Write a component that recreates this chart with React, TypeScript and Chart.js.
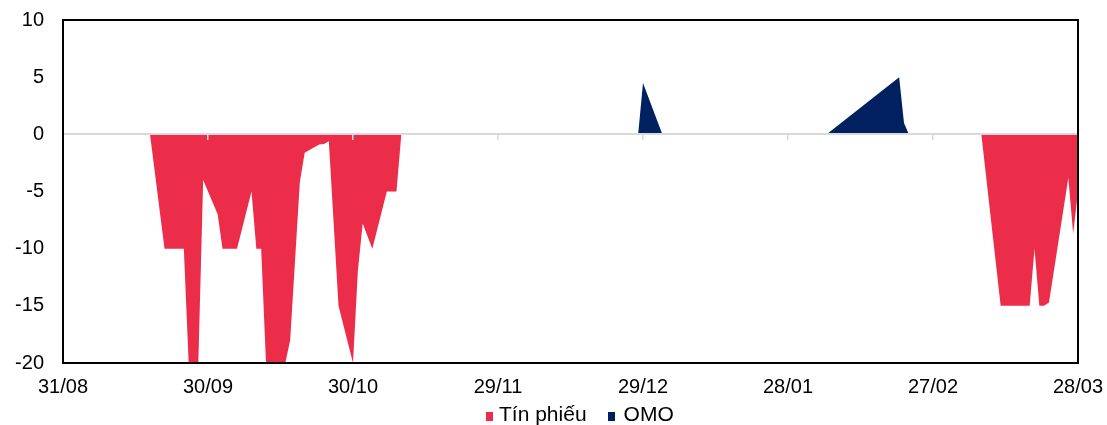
import { useEffect, useRef } from "react";
import { Chart, registerables } from "chart.js";

Chart.register(...registerables);

// x axis: days counted from 31/08, one labelled tick every 30 days
const dateLabels = ["31/08", "30/09", "30/10", "29/11", "29/12", "28/01", "27/02", "28/03"];
const dayStep = 30;
const lastDay = 210;

// y axis range
const yMin = -20;
const yMax = 10;
const yStep = 5;

// Tín phiếu (bills)
const tinPhieuDays = [0, 18, 21, 25, 26, 28, 29, 32, 33, 36, 39, 40, 41, 42, 46, 47, 49, 50, 53, 54, 55, 57, 60, 61, 62, 64, 67, 69, 70, 190, 194, 200, 201, 202, 203, 204, 208, 209, 210];
const tinPhieuValues = [0, 0, -10, -10, -20, -20, -4, -7, -10, -10, -5, -10, -10, -20, -20, -18, -4.2, -1.6, -0.9, -0.85, -0.6, -15, -20, -12, -7.8, -10, -5, -5, 0, 0, -15, -15, -10, -15, -15, -14.7, -3.8, -8.7, -5];

// OMO
const omoDays = [0, 119, 120, 124, 158, 173, 174, 175, 210];
const omoValues = [0, 0, 4.5, 0, 0, 5, 1, 0, 0];

const seriesNames = ["Tín phiếu", "OMO"];
const seriesColors = ["#EC2D4A", "#002060"];

const FONT = '"Liberation Sans", Arial, sans-serif';

const toPoints = (days: number[], values: number[]) =>
  days.map((d, i) => ({ x: d, y: values[i] }));

// black box around the plotting area
const plotFrame = {
  id: "plotFrame",
  afterDraw(chart: any) {
    const { ctx, chartArea: a } = chart;
    ctx.save();
    ctx.strokeStyle = "#000";
    ctx.lineWidth = 2;
    ctx.strokeRect(a.left, a.top, a.right - a.left, a.bottom - a.top);
    ctx.restore();
  },
};

export default function App() {
  const canvasRef = useRef<HTMLCanvasElement | null>(null);

  useEffect(() => {
    if (!canvasRef.current) return;
    const chart = new Chart(canvasRef.current, {
      type: "line",
      data: {
        datasets: [
          {
            label: seriesNames[0],
            data: toPoints(tinPhieuDays, tinPhieuValues),
            backgroundColor: seriesColors[0],
            borderColor: seriesColors[0],
            borderWidth: 0,
            pointRadius: 0,
            fill: "origin",
            tension: 0,
          },
          {
            label: seriesNames[1],
            data: toPoints(omoDays, omoValues),
            backgroundColor: seriesColors[1],
            borderColor: seriesColors[1],
            borderWidth: 0,
            pointRadius: 0,
            fill: "origin",
            tension: 0,
          },
        ],
      },
      options: {
        animation: false,
        responsive: false,
        layout: { padding: { top: 20, right: 29, bottom: 0, left: 0 } },
        plugins: {
          legend: { display: false },
          tooltip: { enabled: false },
        },
        scales: {
          x: {
            type: "linear",
            min: 0,
            max: lastDay,
            grid: { display: false, drawTicks: false },
            border: { display: false },
            ticks: {
              stepSize: dayStep,
              autoSkip: false,
              maxRotation: 0,
              padding: 12,
              color: "#000",
              font: { family: FONT, size: 20 },
              callback: (v: any) => dateLabels[Math.round(Number(v) / dayStep)] ?? "",
            },
            afterFit: (scale: any) => {
              scale.height = 62;
              scale.paddingLeft = 0;
              scale.paddingRight = 0;
            },
          },
          // zero line with small tick marks, drawn over the filled areas
          x2: {
            type: "linear",
            position: { y: 0 },
            min: 0,
            max: lastDay,
            ticks: { display: false, stepSize: dayStep },
            grid: {
              drawOnChartArea: false,
              drawTicks: true,
              tickLength: 5,
              color: "#D9D9D9",
              lineWidth: 1.5,
              z: 1,
            },
            border: { display: true, color: "#D9D9D9", width: 2, z: 1 },
          },
          y: {
            type: "linear",
            min: yMin,
            max: yMax,
            grid: { display: false, drawTicks: false },
            border: { display: false },
            ticks: {
              stepSize: yStep,
              padding: 19,
              color: "#000",
              font: { family: FONT, size: 20 },
              callback: (v: any) => String(v),
            },
            afterFit: (scale: any) => {
              scale.width = 63;
              scale.paddingTop = 0;
              scale.paddingBottom = 0;
            },
          },
        },
      },
      plugins: [plotFrame],
    });
    return () => chart.destroy();
  }, []);

  const legendItem = (name: string, color: string, first: boolean) => (
    <span
      key={name}
      style={{ display: "inline-flex", alignItems: "baseline", marginLeft: first ? 0 : 21 }}
    >
      <span
        style={{ display: "inline-block", width: 7, height: 9, background: color, marginRight: first ? 6 : 9 }}
      />
      <span>{name}</span>
    </span>
  );

  return (
    <div style={{ position: "absolute", left: 0, top: 0, width: 1107, height: 425, background: "#fff" }}>
      <canvas ref={canvasRef} width={1107} height={425} style={{ display: "block" }} />
      <div
        style={{
          position: "absolute",
          left: 486,
          top: 404,
          display: "flex",
          alignItems: "baseline",
          font: `21px ${FONT}`,
          lineHeight: "20px",
          color: "#000",
          whiteSpace: "nowrap",
        }}
      >
        {seriesNames.map((n, i) => legendItem(n, seriesColors[i], i === 0))}
      </div>
    </div>
  );
}
